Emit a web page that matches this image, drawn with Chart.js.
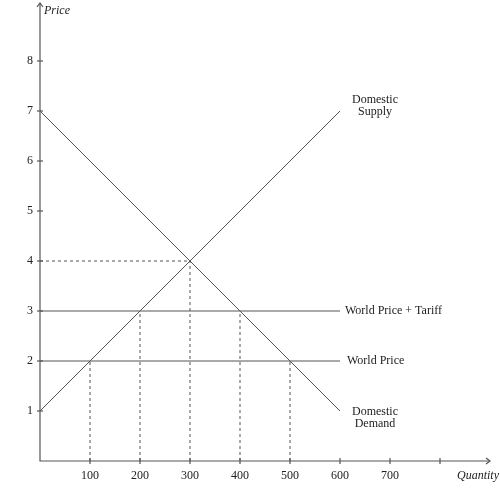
<!DOCTYPE html><html><head><script src="https://cdn.jsdelivr.net/npm/chart.js"></script>
<style>body{margin:0;background:#fff}</style></head><body><canvas id="c" width="500" height="500" style="width:500px;height:500px"></canvas>
<script>
const supplyX=[0,600], supplyY=[1,7];
const demandX=[0,600], demandY=[7,1];
const worldPrice=2, tariffPrice=3;
const xTicks=[100,200,300,400,500,600,700,800];
const xTickLabels=['100','200','300','400','500','600','700',''];
const yTicks=[1,2,3,4,5,6,7,8];
const dashedV=[[100,2],[200,3],[300,4],[400,3],[500,2]];
const dashedH=[[4,300]];
const col='#555';
const pts=(xs,ys)=>xs.map((x,i)=>({x,y:ys[i]}));
const ds=(data,dash)=>({data,borderColor:col,borderWidth:1,pointRadius:0,borderDash:dash||[],fill:false,tension:0});
const datasets=[ds(pts(supplyX,supplyY)),ds(pts(demandX,demandY)),
 ds([{x:0,y:worldPrice},{x:600,y:worldPrice}]),ds([{x:0,y:tariffPrice},{x:600,y:tariffPrice}])];
dashedV.forEach(([x,y])=>datasets.push(ds([{x,y:0},{x,y}],[3,3])));
dashedH.forEach(([y,x])=>datasets.push(ds([{x:0,y},{x,y}],[3,3])));
const axes={id:'axes',afterDraw(c){const x=c.scales.x,y=c.scales.y,g=c.ctx;
 const x0=x.getPixelForValue(0),y0=y.getPixelForValue(0),xr=c.chartArea.right,yt=c.chartArea.top;
 g.save();g.strokeStyle=col;g.lineWidth=1.2;g.beginPath();g.moveTo(x0,yt);g.lineTo(x0,y0);g.lineTo(xr,y0);g.stroke();
 g.beginPath();g.moveTo(xr-4,y0-3);g.lineTo(xr,y0);g.lineTo(xr-4,y0+3);g.moveTo(x0-3,yt+4);g.lineTo(x0,yt);g.lineTo(x0+3,yt+4);g.stroke();
 g.fillStyle='#222';g.font='12px "Liberation Serif"';g.textBaseline='middle';
 xTicks.forEach((v,i)=>{const p=x.getPixelForValue(v);g.beginPath();g.moveTo(p,y0-3);g.lineTo(p,y0+3);g.stroke();g.textAlign='center';g.fillText(xTickLabels[i],p,y0+15);});
 yTicks.forEach(v=>{const p=y.getPixelForValue(v);g.beginPath();g.moveTo(x0-3,p);g.lineTo(x0+3,p);g.stroke();g.textAlign='right';g.fillText(String(v),x0-7,p);});
 g.font='italic 12px "Liberation Serif"';g.textAlign='left';g.fillText('Price',x0+4,yt+8);g.textAlign='right';g.fillText('Quantity',xr+9,y0+15);
 g.font='12px "Liberation Serif"';g.textAlign='center';
 g.fillText('Domestic',375,100);g.fillText('Supply',375,112);g.fillText('Domestic',375,412);g.fillText('Demand',375,424);
 g.textAlign='left';g.fillText('World Price + Tariff',345,y.getPixelForValue(tariffPrice));g.fillText('World Price',347,y.getPixelForValue(worldPrice));
 g.restore();}};
new Chart(document.getElementById('c'),{type:'line',data:{datasets},plugins:[axes],
 options:{responsive:false,animation:false,layout:{padding:{left:40,right:10,top:3,bottom:39}},
 plugins:{legend:{display:false},tooltip:{enabled:false}},
 scales:{x:{type:'linear',min:0,max:900,display:false},y:{type:'linear',min:0,max:9.16,display:false}}}});
</script></body></html>
